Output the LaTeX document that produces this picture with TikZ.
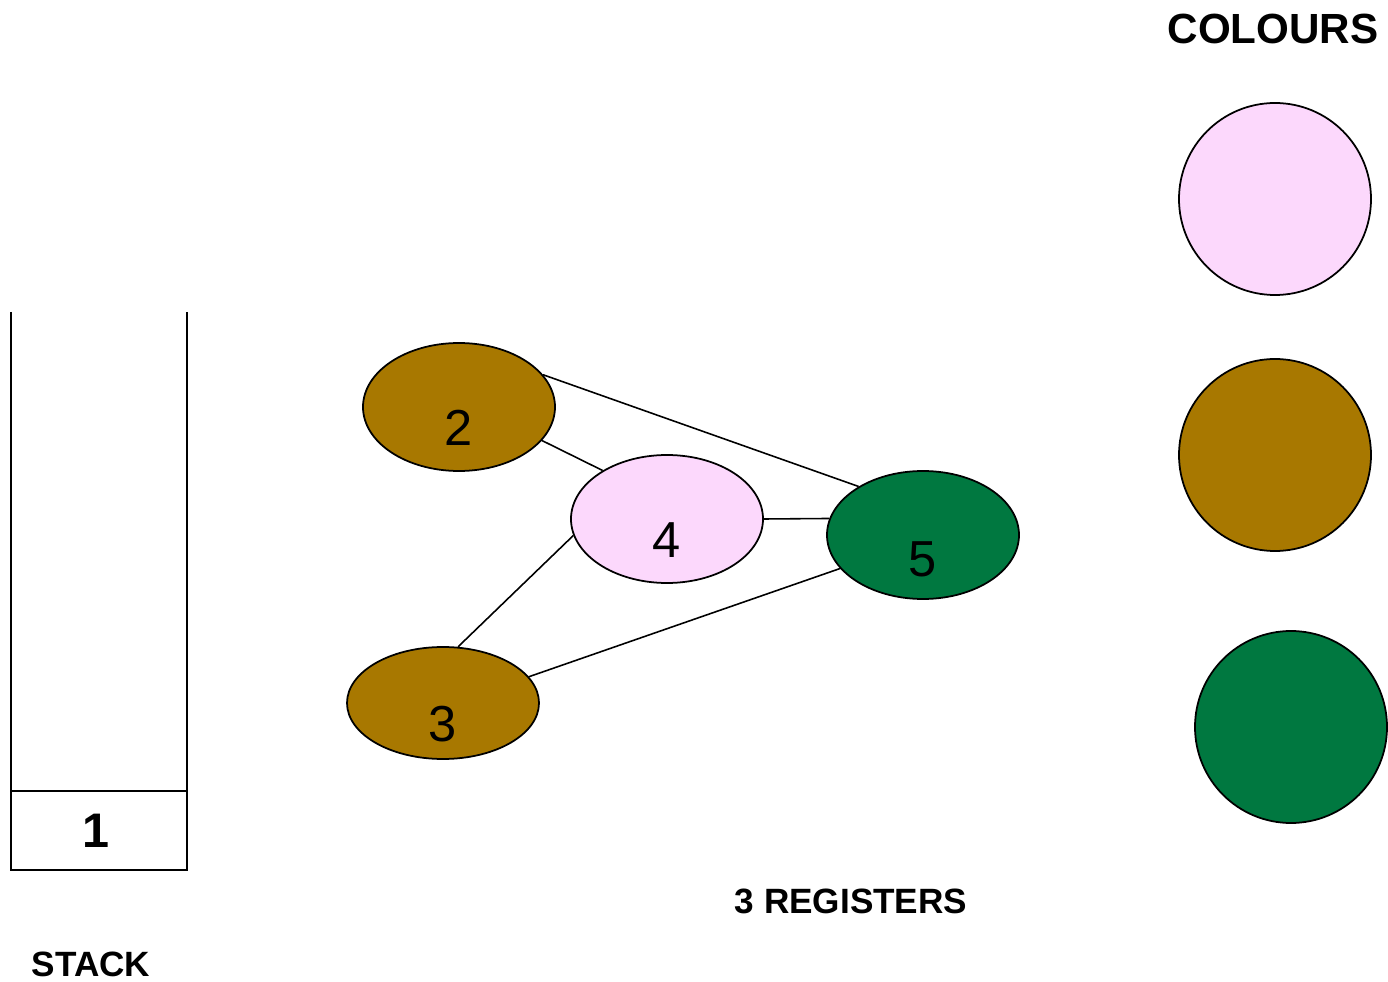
\documentclass[tikz,border=0pt]{standalone}
\usepackage{fontspec}
\setmainfont{Liberation Sans}
\usetikzlibrary{shapes.geometric}

\definecolor{regpink}{RGB}{252,216,252}
\definecolor{regbrown}{RGB}{168,120,0}
\definecolor{reggreen}{RGB}{0,120,64}

\begin{document}
\begin{tikzpicture}[
    reg/.style={ellipse, draw=black, line width=0.5pt, inner sep=0pt,
                minimum width=1.92cm, minimum height=1.28cm},
    colour/.style={circle, draw=black, line width=0.5pt, inner sep=0pt,
                   minimum size=1.92cm},
    num/.style={font=\fontsize{14.4pt}{16pt}\selectfont},
    title/.style={font=\bfseries\fontsize{10pt}{12pt}\selectfont},
    edge/.style={line width=0.45pt}
]

    \useasboundingbox (0,0) rectangle (13.88,-9.82);

    % 1. Ngăn xếp (stack) bên trái
    \coordinate (S1) at (0.11,-3.12);
    \coordinate (S2) at (0.11,-8.70);
    \coordinate (S3) at (1.87,-8.70);
    \coordinate (S4) at (1.87,-3.12);
    \coordinate (D1) at (0.11,-7.91);
    \coordinate (D2) at (1.87,-7.91);

    \draw[line width=0.6pt] (S1) -- (S2) -- (S3) -- (S4);
    \draw[line width=0.6pt] (D1) -- (D2);

    \node[font=\bfseries\fontsize{13.8pt}{16pt}\selectfont] (top) at (0.96,-8.31) {1};
    \node[title] (stack) at (0.91,-9.64) {STACK};

    % 2. Đồ thị giao thoa: các đỉnh 2, 3, 4, 5
    \node[reg, fill=regbrown] (n2) at (4.59,-4.07) {};
    \node[reg, fill=regpink]  (n4) at (6.67,-5.19) {};
    \node[reg, fill=reggreen] (n5) at (9.23,-5.35) {};
    \node[reg, fill=regbrown, minimum height=1.12cm] (n3) at (4.43,-7.03) {};

    \node[num, yshift=-0.21cm] at (n2) {2};
    \node[num, yshift=-0.21cm] at (n4) {4};
    \node[num, yshift=-0.24cm] at (n5) {5};
    \node[num, yshift=-0.21cm] at (n3) {3};

    % 3. Các cạnh
    \draw[edge] (n2.21)  -- (n5.143);
    \draw[edge] (n2.-22) -- (n4.143);
    \draw[edge] (n4.0)   -- (n5.170);
    \draw[edge] (n4.190) -- (n3.75);
    \draw[edge] (n3.17)  -- (n5.202);

    \node[title] (regs) at (8.51,-9.01) {3 REGISTERS};

    % 4. Bảng màu bên phải
    \node[font=\bfseries\fontsize{12pt}{14pt}\selectfont] (colours) at (12.73,-0.29) {COLOURS};
    \node[colour, fill=regpink]  (c1) at (12.75,-1.99) {};
    \node[colour, fill=regbrown] (c2) at (12.75,-4.55) {};
    \node[colour, fill=reggreen] (c3) at (12.91,-7.27) {};

\end{tikzpicture}
\end{document}
